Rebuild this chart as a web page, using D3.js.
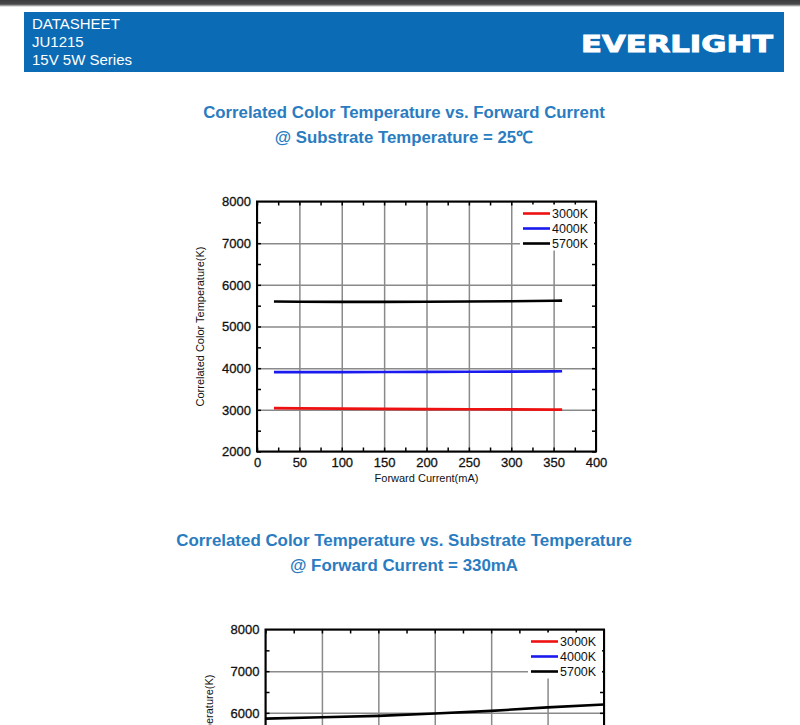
<!doctype html>
<html lang="en">
<head>
  <meta charset="utf-8">
  <script src="https://cdnjs.cloudflare.com/ajax/libs/d3/7.8.5/d3.min.js"></script>
  <style>
    html, body{margin:0px; padding:0px; background:#fff; overflow:hidden;}
    svg{display:block; font-family:"Liberation Sans", Arial, sans-serif;}
    .grid line{stroke:#8a8a8a; stroke-width:1.5;}
  </style>
</head>
<body>
<div id="view"></div>

<script>
// chart 1 : CCT vs forward current
var currentMA = [20, 50, 100, 150, 200, 250, 300, 350, 360];
var cct3000 = [3040, 3035, 3028, 3022, 3018, 3013, 3010, 3006, 3005];
var cct4000 = [3905, 3905, 3906, 3908, 3910, 3913, 3917, 3922, 3925];
var cct5700 = [5600, 5595, 5590, 5592, 5595, 5600, 5607, 5618, 5622];
var currentTicks = [0, 50, 100, 150, 200, 250, 300, 350, 400];

// chart 2 : CCT vs substrate temperature (page is cut, only the top shows)
var substrateT = [25, 35, 45, 55, 65, 75, 85];
var cct5700T = [5860, 5895, 5928, 5985, 6048, 6130, 6200];
var substrateTicks = [25, 35, 45, 55, 65, 75, 85];

var cctTicks = [2000, 3000, 4000, 5000, 6000, 7000, 8000];
var cctTicksVisible2 = [6000, 7000, 8000];
var seriesNames = ["3000K", "4000K", "5700K"];
var seriesColors = ["#ee1111", "#1a1aee", "#000000"];

var svg = d3.select("#view").append("svg")
    .attr("width", 800).attr("height", 725);

svg.append("rect").attr("width", 800).attr("height", 725).attr("fill", "#fff");

// top dark strip + shadow
var grad = svg.append("defs").append("linearGradient").attr("id", "shade")
    .attr("x1", 0).attr("y1", 0).attr("x2", 0).attr("y2", 1);
grad.append("stop").attr("offset", "0%").attr("stop-color", "#3b3b3d");
grad.append("stop").attr("offset", "60%").attr("stop-color", "#4a4a4c");
grad.append("stop").attr("offset", "100%").attr("stop-color", "#ffffff");
svg.append("rect").attr("x", 0).attr("y", 0).attr("width", 800).attr("height", 7).attr("fill", "url(#shade)");

// header band
svg.append("rect").attr("x", 24).attr("y", 12).attr("width", 760).attr("height", 60).attr("fill", "#0b6bb5");
["DATASHEET", "JU1215", "15V 5W Series"].forEach(function(t, i){
  svg.append("text").attr("x", 32).attr("y", 29 + i * 18)
    .attr("fill", "#fff").attr("font-size", "15px").text(t);
});
svg.append("text").attr("x", 581).attr("y", 52)
  .attr("fill", "#fff").attr("stroke", "#fff").attr("stroke-width", 0.9)
  .attr("font-size", "23px").attr("font-weight", "bold")
  .attr("font-family", "'DejaVu Sans', sans-serif")
  .attr("textLength", 192).attr("lengthAdjust", "spacingAndGlyphs")
  .text("EVERLIGHT");

function titles(y, size, l1, l2){
  svg.append("text").attr("x", 404).attr("y", y).attr("text-anchor", "middle")
    .attr("fill", "#2a7cc1").attr("font-weight", "bold").attr("font-size", size).text(l1);
  svg.append("text").attr("x", 404).attr("y", y + 25).attr("text-anchor", "middle")
    .attr("fill", "#2a7cc1").attr("font-weight", "bold").attr("font-size", size).text(l2);
}

function chart(opt){
  var g = svg.append("g");
  var x = d3.scaleLinear().domain(opt.xDomain).range([opt.left, opt.right]);
  var y = d3.scaleLinear().domain([2000, 8000]).range([opt.top + 250, opt.top]);
  var h = 250, w = opt.right - opt.left;

  // grid
  g.append("g").attr("class", "grid").attr("transform", "translate(0," + (opt.top + h) + ")")
    .call(d3.axisBottom(x).tickValues(opt.xTicks).tickSize(-h).tickFormat(""))
    .call(function(s){ s.select(".domain").remove(); });
  g.append("g").attr("class", "grid").attr("transform", "translate(" + opt.left + ",0)")
    .call(d3.axisLeft(y).tickValues(cctTicks).tickSize(-w).tickFormat(""))
    .call(function(s){ s.select(".domain").remove(); });

  // lines
  var line = d3.line().x(function(d){ return x(d[0]); }).y(function(d){ return y(d[1]); });
  opt.series.forEach(function(s){
    g.append("path").datum(d3.zip(opt.xData, s.values))
      .attr("fill", "none").attr("stroke", s.color).attr("stroke-width", 2.6).attr("d", line);
  });

  // minor ticks (inside)
  var xMinor = d3.range(opt.xDomain[0], opt.xDomain[1], (opt.xTicks[1] - opt.xTicks[0]) / 2);
  var yMinor = d3.range(2000, 8000, 500);
  var thin = function(s){ s.select(".domain").remove(); s.selectAll("line").attr("stroke-width", 1.5); };
  g.append("g").attr("transform", "translate(0," + (opt.top + h) + ")")
    .call(d3.axisBottom(x).tickValues(xMinor).tickSize(-4).tickFormat("")).call(thin);
  g.append("g").attr("transform", "translate(0," + opt.top + ")")
    .call(d3.axisTop(x).tickValues(xMinor).tickSize(-4).tickFormat("")).call(thin);
  g.append("g").attr("transform", "translate(" + opt.left + ",0)")
    .call(d3.axisLeft(y).tickValues(yMinor).tickSize(-4).tickFormat("")).call(thin);
  g.append("g").attr("transform", "translate(" + opt.right + ",0)")
    .call(d3.axisRight(y).tickValues(yMinor).tickSize(-4).tickFormat("")).call(thin);

  // legend (white patch hides the grid behind it)
  var lg = g.append("g");
  lg.append("rect").attr("x", opt.right - 76).attr("y", opt.top + 3).attr("width", 74).attr("height", 46).attr("fill", "#fff");
  seriesNames.forEach(function(n, i){
    var ly = opt.top + 12 + i * 15;
    lg.append("line").attr("x1", opt.right - 73).attr("x2", opt.right - 46).attr("y1", ly).attr("y2", ly)
      .attr("stroke", seriesColors[i]).attr("stroke-width", 2.6);
    lg.append("text").attr("x", opt.right - 44).attr("y", ly + 4.5).attr("font-size", "12.5px").attr("fill", "#111").text(n);
  });

  // labelled axes
  if (opt.showX) {
    g.append("g").attr("transform", "translate(0," + (opt.top + h) + ")")
      .call(d3.axisBottom(x).tickValues(opt.xTicks).tickSize(0).tickPadding(6))
      .call(function(s){ s.select(".domain").remove(); });
  }
  g.append("g").attr("transform", "translate(" + opt.left + ",0)")
    .call(d3.axisLeft(y).tickValues(opt.yLabels).tickSize(0).tickPadding(6).tickFormat(d3.format("d")))
    .call(function(s){ s.select(".domain").remove(); });

  // frame
  g.append("rect").attr("x", opt.left).attr("y", opt.top).attr("width", w).attr("height", h)
    .attr("fill", "none").attr("stroke", "#000").attr("stroke-width", 2);

  g.selectAll(".tick text").attr("font-size", "13px").attr("font-family", "'Liberation Sans', Arial, sans-serif")
    .attr("fill", "#111").attr("stroke", "#111").attr("stroke-width", 0.3);

  // axis titles
  if (opt.showX) {
    g.append("text").attr("x", (opt.left + opt.right) / 2).attr("y", opt.top + h + 30)
      .attr("text-anchor", "middle").attr("font-size", "11px").attr("fill", "#111").text(opt.xLabel);
  }
  g.append("text").attr("transform", "translate(" + (opt.left - 53) + "," + (opt.top + h / 2) + ") rotate(-90)")
    .attr("text-anchor", "middle").attr("font-size", "11px").attr("fill", "#111").text("Correlated Color Temperature(K)");
}

titles(118, "16.8px", "Correlated Color Temperature vs. Forward Current", "@ Substrate Temperature = 25\u2103");
chart({
  left: 257, right: 596, top: 201.5, showX: true, yLabels: cctTicks,
  xDomain: [0, 400], xTicks: currentTicks, xData: currentMA, xLabel: "Forward Current(mA)",
  series: [
    {values: cct3000, color: seriesColors[0]},
    {values: cct4000, color: seriesColors[1]},
    {values: cct5700, color: seriesColors[2]}
  ]
});

titles(546, "16.9px", "Correlated Color Temperature vs. Substrate Temperature", "@ Forward Current = 330mA");
chart({
  left: 265.5, right: 604, top: 629.5, showX: false, yLabels: cctTicksVisible2,
  xDomain: [25, 85], xTicks: substrateTicks, xData: substrateT, xLabel: "Substrate Temperature(\u2103)",
  series: [
    {values: cct5700T, color: seriesColors[2]}
  ]
});
</script>
</body>
</html>
